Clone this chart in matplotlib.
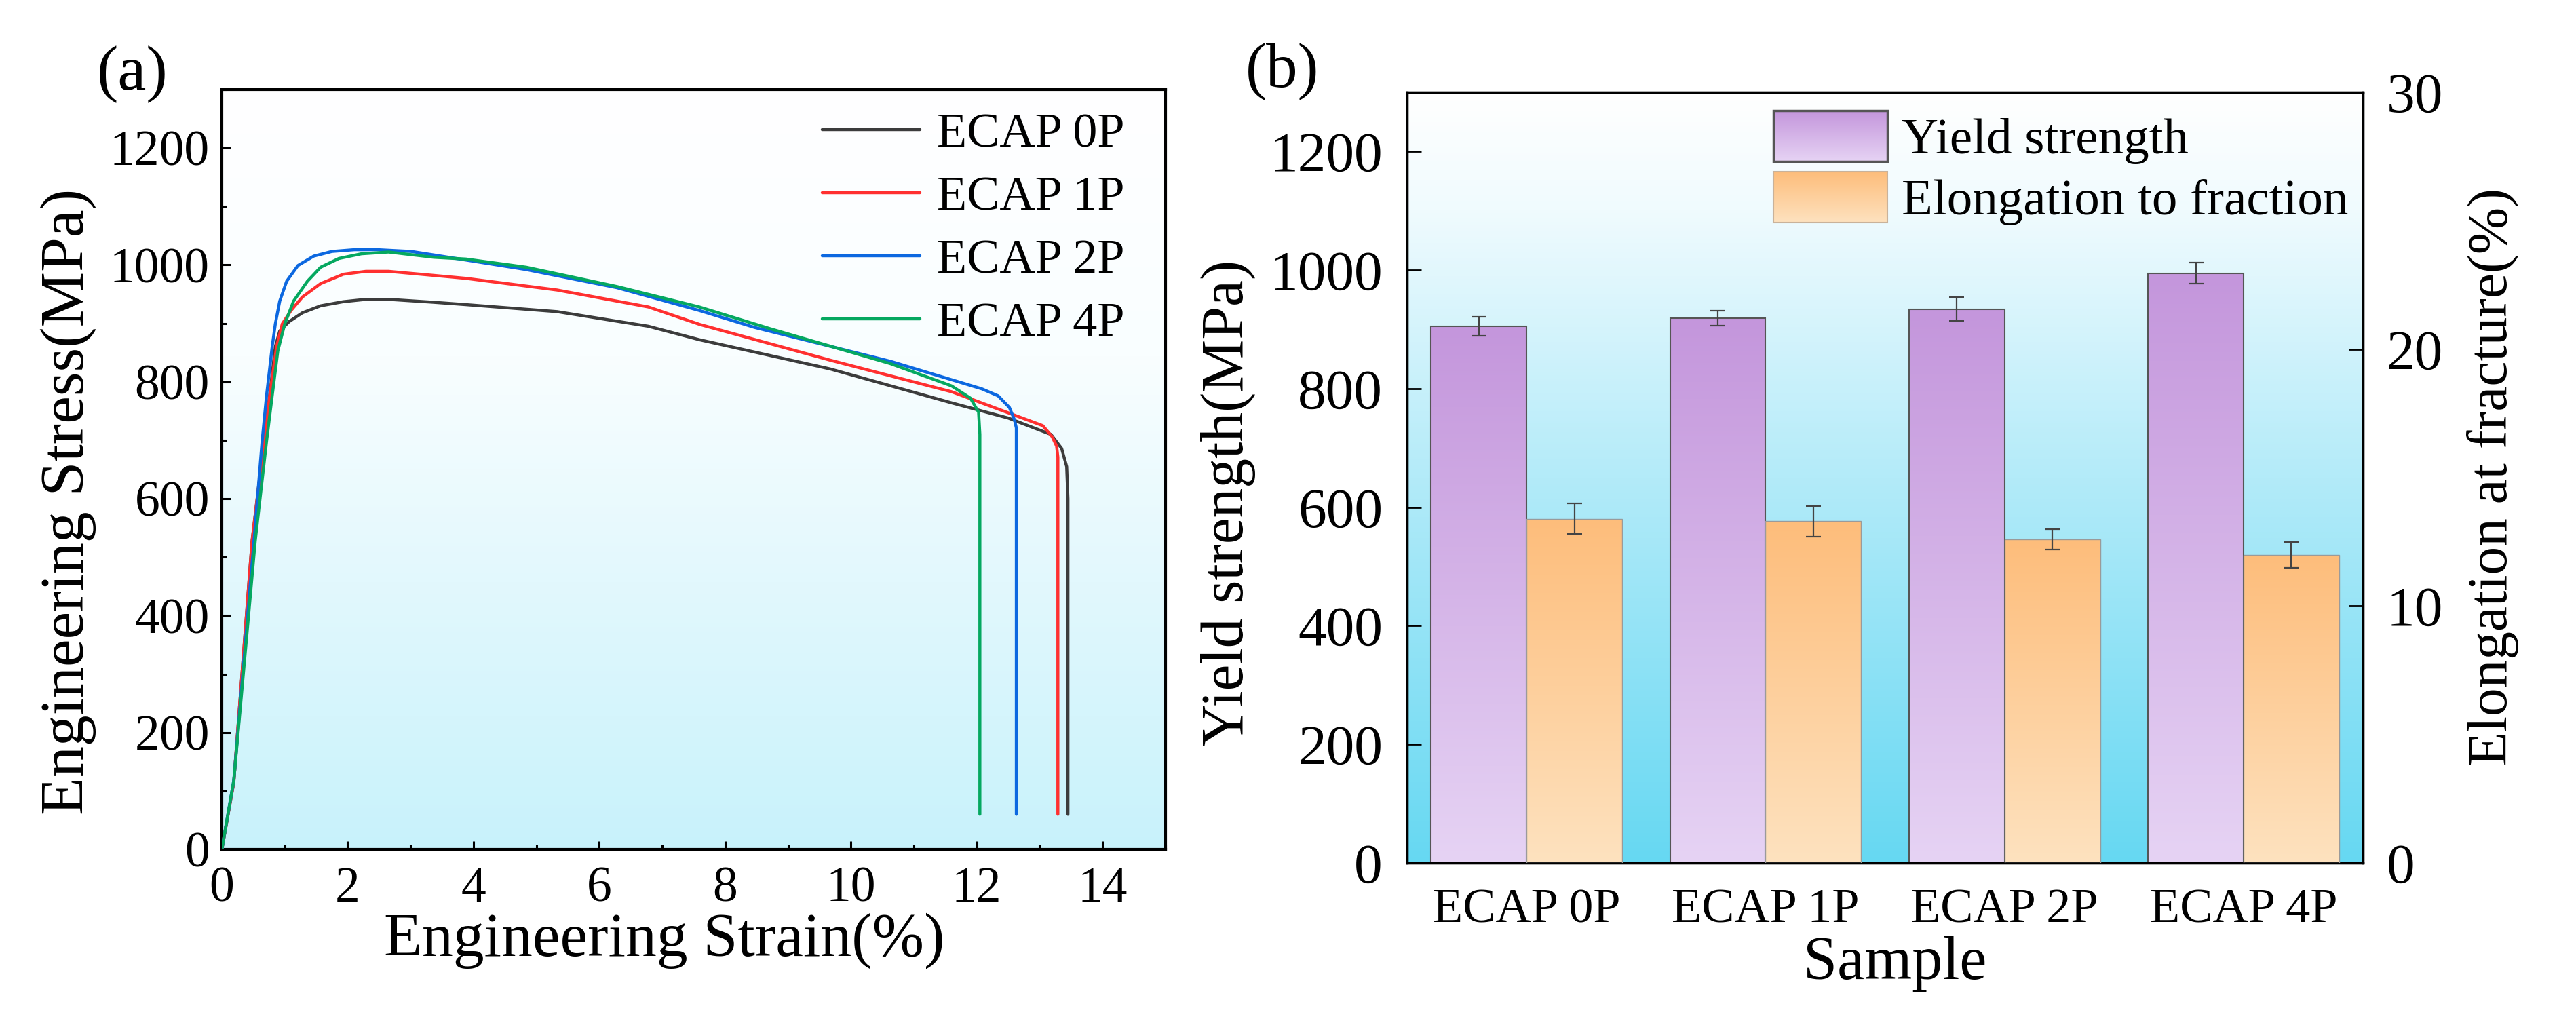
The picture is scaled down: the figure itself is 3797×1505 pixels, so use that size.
import numpy as np
import matplotlib
matplotlib.use("Agg")
import matplotlib.pyplot as plt
from matplotlib.colors import LinearSegmentedColormap, Normalize
from matplotlib.legend_handler import HandlerBase
from matplotlib.image import BboxImage
from matplotlib.transforms import Bbox, TransformedBbox
from matplotlib.patches import Rectangle, Patch
from matplotlib.ticker import MultipleLocator

plt.rcParams["font.family"] = ["Liberation Serif", "DejaVu Serif"]

# ---- (a) stress-strain curves ----
strain_0p = [0, 0.19, 0.48, 0.67, 0.78, 0.85, 0.92, 1.07, 1.28, 1.57, 1.93, 2.29, 2.65,
             3.37, 3.88, 5.33, 6.78, 7.59, 9.67, 11.6, 12.5, 13.18, 13.35, 13.43, 13.45, 13.45]
stress_0p = [0, 115, 527, 698, 795, 860, 887, 903, 918, 930, 937, 941, 941,
             936, 932, 920, 895, 872, 822, 764, 738, 710, 686, 655, 600, 60]
strain_1p = [0, 0.19, 0.48, 0.67, 0.76, 0.87, 0.96, 1.10, 1.28, 1.57, 1.93, 2.29, 2.65,
             3.37, 3.88, 5.33, 6.78, 7.6, 9.67, 11.6, 13.05, 13.2, 13.27, 13.29, 13.29]
stress_1p = [0, 115, 527, 698, 776, 860, 899, 922, 945, 968, 984, 989, 989,
             982, 977, 957, 928, 898, 837, 783, 725, 706, 690, 671, 60]
strain_2p = [0, 0.19, 0.51, 0.64, 0.71, 0.80, 0.85, 0.92, 1.03, 1.21, 1.46, 1.75, 2.11,
             2.47, 3.01, 3.37, 4.84, 6.28, 7.59, 8.47, 10.63, 12.08, 12.34, 12.52, 12.60,
             12.63, 12.63]
stress_2p = [0, 118, 527, 698, 776, 860, 899, 938, 972, 999, 1015, 1023, 1026,
             1026, 1023, 1017, 992, 961, 922, 893, 835, 788, 776, 756, 735,
             721, 60]
strain_4p = [0, 0.19, 0.53, 0.71, 0.80, 0.89, 1.00, 1.14, 1.36, 1.57, 1.86, 2.22, 2.65,
             3.37, 3.88, 4.84, 6.28, 7.59, 8.71, 10.63, 11.6, 11.9, 12.03, 12.05, 12.05]
stress_4p = [0, 118, 527, 698, 776, 853, 899, 938, 972, 996, 1011, 1019, 1022,
             1013, 1010, 996, 963, 928, 891, 831, 793, 772, 748, 710, 60]
curve_labels = ["ECAP 0P", "ECAP 1P", "ECAP 2P", "ECAP 4P"]
curve_colors = ["#3c3c3c", "#ff3030", "#0c68e0", "#05a860"]

# ---- (b) yield strength / elongation bars ----
samples = ["ECAP 0P", "ECAP 1P", "ECAP 2P", "ECAP 4P"]
yield_strength = [905, 919, 934, 995]
yield_err = [16, 13, 20, 18]
elongation = [13.4, 13.3, 12.6, 12.0]
elong_err = [0.6, 0.6, 0.4, 0.5]

PURPLE = ("#e6d3f4", "#c496dc")   # bottom, top
ORANGE = ("#fee2bf", "#fdbd7b")
GRAD = np.linspace(0, 1, 256)[:, None]


def cmap_of(*stops):
    return LinearSegmentedColormap.from_list("g", list(stops))


def grad_bar(ax, x, h, w, colors, edge, lw):
    bar = ax.bar(x, h, w, facecolor="none", edgecolor=edge, linewidth=lw, zorder=3)[0]
    im = ax.imshow(GRAD, cmap=cmap_of(*colors), extent=[x - w / 2, x + w / 2, 0, h],
                   origin="lower", aspect="auto", interpolation="bilinear", zorder=2)
    im.set_clip_path(bar)


class GradHandler(HandlerBase):
    def __init__(self, colors, edge, lw):
        super().__init__()
        self.colors, self.edge, self.lw = colors, edge, lw

    def create_artists(self, legend, orig_handle, xdescent, ydescent, width, height,
                       fontsize, trans):
        bb = TransformedBbox(Bbox.from_bounds(-xdescent, -ydescent, width, height), trans)
        img = BboxImage(bb, cmap=cmap_of(*self.colors), norm=Normalize(0, 1),
                        interpolation="bilinear", origin="lower")
        img.set_data(GRAD)
        rect = Rectangle((-xdescent, -ydescent), width, height, facecolor="none",
                         edgecolor=self.edge, linewidth=self.lw, transform=trans)
        return [img, rect]


fig = plt.figure(figsize=(37.98, 15.05), dpi=100)

# ================= panel (a) =================
ax1 = fig.add_axes([0.0861, 0.1681, 0.3662, 0.7442])
ax1.imshow(GRAD, cmap=cmap_of((0, "#c8f2fb"), (0.35, "#e2f8fd"), (0.65, "#f9feff"), (1, "#ffffff")),
           extent=[0, 15, 0, 1300], origin="lower", aspect="auto", zorder=0)
for sx, sy, lab, col in zip([strain_0p, strain_1p, strain_2p, strain_4p],
                            [stress_0p, stress_1p, stress_2p, stress_4p],
                            curve_labels, curve_colors):
    ax1.plot(sx, sy, color=col, lw=3.2, label=lab, zorder=3,
             solid_joinstyle="round", solid_capstyle="round")
ax1.set_xlim(0, 15)
ax1.set_ylim(0, 1300)
ax1.xaxis.set_major_locator(MultipleLocator(2))
ax1.xaxis.set_minor_locator(MultipleLocator(1))
ax1.yaxis.set_major_locator(MultipleLocator(200))
ax1.yaxis.set_minor_locator(MultipleLocator(100))
ax1.tick_params(which="both", direction="in", width=2.2, labelsize=53)
ax1.tick_params(which="major", length=9)
ax1.tick_params(which="minor", length=5)
ax1.tick_params(axis="x", pad=18)
ax1.tick_params(axis="y", pad=13)
for s in ax1.spines.values():
    s.set_linewidth(3)
ax1.set_xlabel("Engineering Strain(%)", fontsize=66)
ax1.set_ylabel("Engineering Stress(MPa)", fontsize=66)
ax1.xaxis.label.set_va("center")
ax1.yaxis.label.set_va("center")
ax1.xaxis.set_label_coords(0.469, -0.120)
ax1.yaxis.set_label_coords(-0.163, 0.458)
ax1.legend(frameon=False, loc="upper left", bbox_to_anchor=(0.636, 0.97), fontsize=52,
           handlelength=2.0, handletextpad=0.35, labelspacing=0.38, borderpad=0,
           borderaxespad=0)

# ================= panel (b) =================
ax = fig.add_axes([0.5461, 0.1548, 0.3710, 0.7548])
ax2 = ax.twinx()
xs = np.arange(len(samples))
ax.imshow(GRAD, cmap=cmap_of((0, "#66d8f2"), (0.5, "#b3ebf9"), (0.85, "#f0fbfe"), (1, "#ffffff")),
          extent=[-0.5, 3.5, 0, 1300], origin="lower", aspect="auto", zorder=0)
for x, v in zip(xs, yield_strength):
    grad_bar(ax, x - 0.2, v, 0.4, PURPLE, "#555555", 1.5)
ax.errorbar(xs - 0.2, yield_strength, yerr=yield_err, fmt="none", ecolor="#444444",
            elinewidth=1.6, capsize=8, capthick=1.6, zorder=4)
for x, v in zip(xs, elongation):
    grad_bar(ax2, x + 0.2, v, 0.4, ORANGE, "#9a9a9a", 1.0)
ax2.errorbar(xs + 0.2, elongation, yerr=elong_err, fmt="none", ecolor="#444444",
             elinewidth=1.6, capsize=8, capthick=1.6, zorder=4)
ax.set_xlim(-0.5, 3.5)
ax.set_ylim(0, 1300)
ax2.set_ylim(0, 30)
ax.set_xticks(xs)
ax.set_xticklabels(samples)
ax.yaxis.set_major_locator(MultipleLocator(200))
ax2.yaxis.set_major_locator(MultipleLocator(10))
ax.tick_params(axis="y", direction="in", length=15, width=2, labelsize=60, pad=26)
ax2.tick_params(axis="y", direction="in", length=15, width=2, labelsize=60, pad=25)
ax.tick_params(axis="x", length=0, labelsize=52, pad=27)
for a in (ax, ax2):
    for s in a.spines.values():
        s.set_linewidth(2.4)
ax.set_xlabel("Sample", fontsize=65)
ax.set_ylabel("Yield strength(MPa)", fontsize=63)
ax2.set_ylabel("Elongation at fracture(%)", fontsize=60)
ax.xaxis.label.set_va("center")
ax.yaxis.label.set_va("center")
ax2.yaxis.label.set_va("center")
ax.xaxis.set_label_coords(0.51, -0.131)
ax.yaxis.set_label_coords(-0.187, 0.467)
ax2.yaxis.set_label_coords(1.136, 0.501)

h1 = Patch(label="Yield strength")
h2 = Patch(label="Elongation to fraction")
ax2.legend(handles=[h1, h2], labels=["Yield strength", "Elongation to fraction"],
           handler_map={h1: GradHandler(PURPLE, "#555555", 2.5),
                        h2: GradHandler(ORANGE, "#c9b29a", 1.5)},
           loc="upper left", bbox_to_anchor=(0.383, 0.976), frameon=False, fontsize=54,
           handlelength=2.24, handleheight=1.15, handletextpad=0.28, labelspacing=0.15,
           borderpad=0, borderaxespad=0)

fig.text(0.0513, 0.927, "(a)", fontsize=68, ha="center", va="center")
fig.text(0.4976, 0.9296, "(b)", fontsize=67, ha="center", va="center")

fig.savefig("out.png", dpi=100)
